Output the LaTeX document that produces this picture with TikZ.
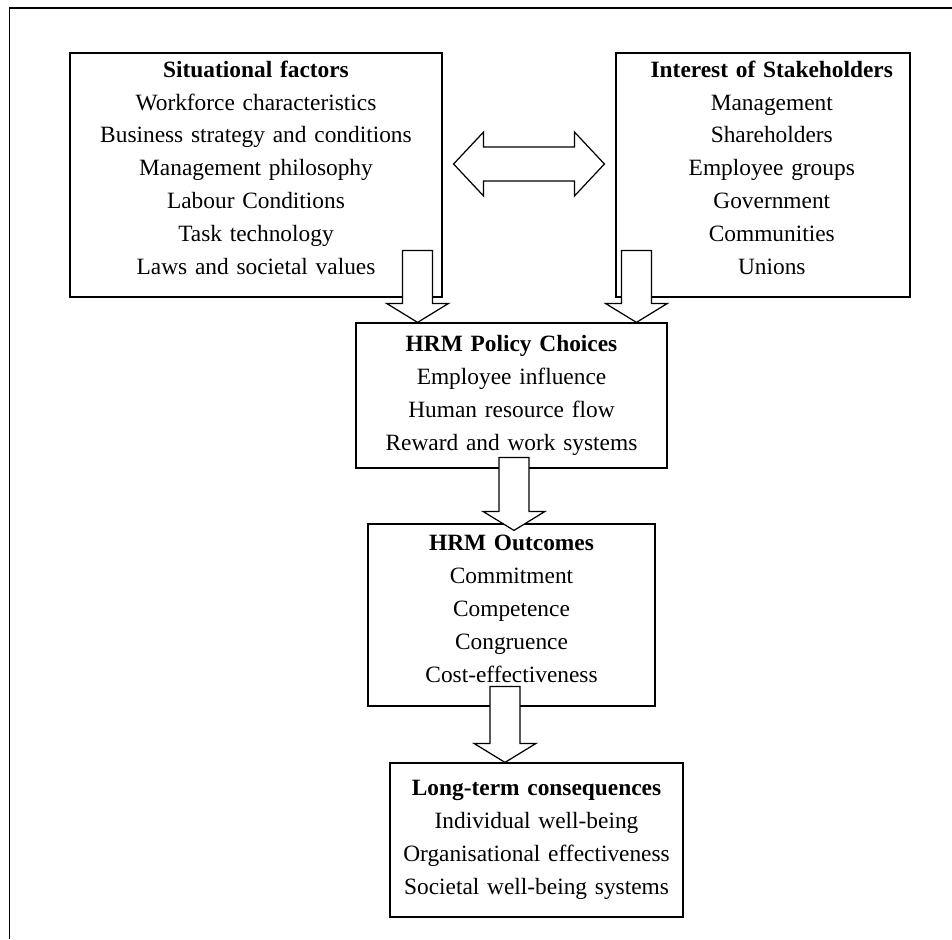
\documentclass[tikz,border=0pt]{standalone}
\usepackage{fontspec}
\setmainfont{Liberation Serif}
\usetikzlibrary{calc}

\tikzset{
  box/.style={draw, fill=white, line width=0.7pt, align=center, inner sep=0pt,
    font=\fontsize{13.3}{18.7}\selectfont},
  blockarrow/.style={draw, fill=white, line width=0.7pt, line join=miter},
}
% invisible strut that lowers the last line's depth
\newcommand{\gap}[1]{\rule[-#1]{0pt}{#1}}
\newcommand{\blockdown}[2]{%
  \draw[blockarrow] ($(#1)+(-15,0)$) -- ($(#2)+(-15,-19)$) -- ($(#2)+(-31,-19)$) -- (#2)
    -- ($(#2)+(31,-19)$) -- ($(#2)+(15,-19)$) -- ($(#1)+(15,0)$) -- cycle;}

\begin{document}
\begin{tikzpicture}[x=0.02cm, y=-0.02cm]
  \useasboundingbox (0,0) rectangle (952,939);

  % outer frame, cut off at the right and bottom
  \draw[line width=1.1pt] (9.5,939) -- (9.5,8) -- (952,8);

  % Situational factors
  \node[box, minimum width=7.44cm, minimum height=4.88cm, text width=7.2cm] (sit) at (256,175) {
    \textbf{Situational factors}\\Workforce characteristics\\Business strategy and conditions\\
    Management philosophy\\Labour Conditions\\Task technology\\Laws and societal values\gap{8.5pt}
  };

  % Stakeholders
  \node[box, minimum width=5.88cm, minimum height=4.88cm, text width=5.6cm] (stake) at (763,175) {
    \advance\leftskip by 10pt
    \textbf{Interest of Stakeholders}\\Management\\Shareholders\\Employee groups\\
    Government\\Communities\\Unions\gap{8.5pt}\par
  };

  % Policy choices
  \node[box, minimum width=6.22cm, minimum height=2.9cm, text width=6cm] (pol) at (511.5,395.5) {
    \textbf{HRM Policy Choices}\\Employee influence\\Human resource flow\\Reward and work systems
  };

  % Outcomes
  \node[box, minimum width=5.74cm, minimum height=3.64cm, text width=5.5cm] (out) at (511.5,615) {
    \textbf{HRM Outcomes}\\Commitment\\Competence\\Congruence\\Cost-effectiveness\gap{7pt}
  };

  % Long-term consequences
  \node[box, minimum width=5.86cm, minimum height=3.08cm, text width=5.6cm] (long) at (536.5,840) {
    \textbf{Long-term consequences}\\Individual well-being\\Organisational effectiveness\\
    Societal well-being systems
  };

  % two-way arrow between the top boxes
  \coordinate (dl) at ($(sit.east)+(11,-11)$);
  \coordinate (dr) at ($(stake.west)+(-11,-11)$);
  \draw[blockarrow] (dl) -- ++(30,-32) -- ++(0,15) -- ($(dr)+(-30,-17)$) -- ++(0,-15) -- (dr)
    -- ++(-30,32) -- ++(0,-15) -- ($(dl)+(30,17)$) -- ++(0,15) -- cycle;

  % block arrows downwards
  \coordinate (a1s) at ($(sit.south east)+(-25,-47)$);
  \coordinate (a2s) at ($(stake.south west)+(21,-47)$);
  \coordinate (a3s) at ($(pol.south)+(2.5,-11)$);
  \coordinate (a4s) at ($(out.south)+(-6.5,-20)$);
  \blockdown{a1s}{a1s |- pol.north}
  \blockdown{a2s}{a2s |- pol.north}
  \coordinate (a3e) at ($(a3s |- out.north)+(0,7)$);
  \blockdown{a3s}{a3e}
  \blockdown{a4s}{a4s |- long.north}

  % box sides stay visible through the shafts
  \draw[line width=0.7pt] (sit.north east) -- (sit.south east);
  \draw[line width=0.7pt] (stake.north west) -- (stake.south west);
\end{tikzpicture}
\end{document}
